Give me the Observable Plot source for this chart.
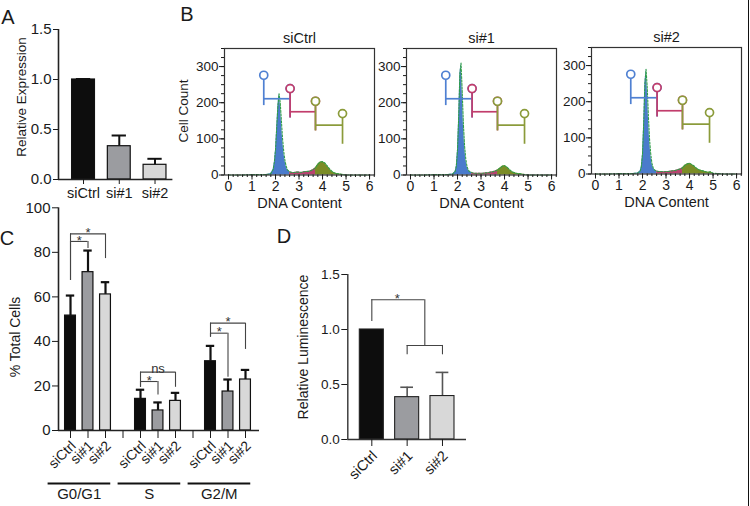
<!DOCTYPE html>
<html><head><meta charset="utf-8">
<script src="https://cdn.jsdelivr.net/npm/d3@7"></script>
<script src="https://cdn.jsdelivr.net/npm/@observablehq/plot@0.6"></script>
<style>
body{margin:0;background:#fff;}
#fig{position:relative;width:750px;height:506px;overflow:hidden;background:#fff;font-family:"Liberation Sans",Arial,sans-serif;color:#1a1a1a;}
.lab{position:absolute;white-space:nowrap;transform:translate(-50%,-50%);line-height:1;}
.vl{position:absolute;white-space:nowrap;transform:translate(-50%,-50%) rotate(-90deg);line-height:1;}
</style></head><body><div id="fig"></div><script>
// ---------- data ----------
const samples = ["siCtrl", "si#1", "si#2"];
const sampleFill = ["#0d0d0d", "#9b9ca0", "#d8d8d8"];

// Panel A: relative expression
const aYTicks = [0, 0.5, 1.0, 1.5];
const relExpr = [1.00, 0.333, 0.147];
const relExprErr = [0.005, 0.107, 0.06];

// Panel B: DNA content histograms
const bYTicks = [0, 100, 200, 300];
const bXTicks = [0, 1, 2, 3, 4, 5, 6];
const histTitles = ["siCtrl", "si#1", "si#2"];
const dnaBins = [0,0.5,1.0,1.5,1.7,1.8,1.9,1.95,2.0,2.05,2.1,2.15,2.2,2.25,2.3,2.35,2.4,2.45,2.5,2.6,2.7,2.8,2.9,3.0,3.1,3.2,3.3,3.4,3.5,3.6,3.7,3.8,3.9,4.0,4.1,4.2,4.3,4.4,4.5,4.6,4.7,4.8,4.9,5.0,5.5,6.0];
const countsCtrl = [0,0,1,1,2,4,15,35,70,130,190,225,200,150,100,65,40,25,15,9,7,7,8,8,7,9,10,10,12,15,20,30,36,37,33,25,17,10,6,4,3,2,1,0,0,0];
const countsSi1  = [0,0,1,1,2,3,10,25,70,160,280,310,230,140,80,45,25,15,10,7,5,5,5,5,5,6,6,8,9,11,14,19,24,26,22,16,10,7,5,4,3,2,1,0,0,0];
const countsSi2  = [0,0,1,1,2,3,8,20,55,140,250,290,240,160,95,55,30,18,12,8,7,7,6,7,7,8,9,10,12,14,17,24,28,30,26,22,16,12,10,8,6,5,6,2,0,0];
const regionEdges = [2.6, 3.7, 5.0];
const gateFrom = [1.5, 2.62, 3.7];
const gateTo = [2.62, 3.7, 4.85];
const gateLevel = [211, 175, 138];
const gateLeftTop = [276, 239, 204];
const gateLeftLow = [192, 158, 122];
const gateRightTop = [239, 204, 170];
const gateRightLow = [158, 122, 85];
const gateColor = ["#4f80d2", "#c23d6c", "#8b9b3a"];
const regionFill = ["#4a7bcc", "#b8436f", "#7b8c26"];

// Panel C: cell cycle distribution
const phases = ["G0/G1", "S", "G2/M"];
const cYTicks = [0, 20, 40, 60, 80, 100];
const pctG0G1 = [51.6, 71.1, 61.1];
const errG0G1 = [9.0, 9.7, 5.5];
const pctS = [14.2, 9.0, 13.3];
const errS = [4.1, 3.6, 3.6];
const pctG2M = [31.1, 17.5, 22.9];
const errG2M = [6.9, 5.4, 4.3];
// significance brackets (phase, sample a, sample b, top, leg low a, leg low b, label)
const cSigPhase = [0, 0, 1, 1, 2, 2];
const cSigA = [0, 0, 0, 0, 0, 0];
const cSigB = [1, 2, 1, 2, 1, 2];
const cSigTop = [84.9, 88.3, 22.0, 26.2, 43.7, 48.2];
const cSigLowA = [67.4, 67.4, 19.4, 19.4, 41.9, 41.9];
const cSigLowB = [81.7, 77.2, 15.9, 19.4, 23.9, 36.4];
const cSigText = ["*", "*", "*", "ns", "*", "*"];

// Panel D: relative luminescence
const dYTicks = [0, 0.5, 1.0, 1.5];
const relLum = [1.0, 0.385, 0.395];
const relLumErr = [0, 0.09, 0.215];
const dBracketTop = 1.27, dBracketLeftLow = 1.073, dBracketMid = 0.855, dBracketLegLow = 0.77;

// ---------- helpers ----------
const fig = document.getElementById("fig");
const font = '"Liberation Sans", Arial, sans-serif';
const baseStyle = {fontFamily: font, fontSize: "14px", color: "#1a1a1a", background: "transparent", overflow: "visible"};
function place(el, left, top) {
  el.style.position = "absolute"; el.style.left = left + "px"; el.style.top = top + "px";
  fig.appendChild(el);
}
function label(text, cx, cy, size, vertical) {
  const d = document.createElement("div");
  d.className = vertical ? "vl" : "lab";
  d.textContent = text;
  d.style.left = cx + "px"; d.style.top = cy + "px"; d.style.fontSize = size + "px";
  fig.appendChild(d);
}

// ---------- Panel A ----------
const aRows = samples.map((s, i) => ({i, s, v: relExpr[i], e: relExpr[i] + relExprErr[i], fill: sampleFill[i]}));
place(Plot.plot({
  width: 200, height: 205, marginLeft: 58, marginRight: 27.6, marginTop: 29, marginBottom: 26,
  x: {domain: [-0.7, 2.5]}, y: {domain: [0, 1.5]}, color: {type: "identity"},
  style: baseStyle,
  marks: [
    Plot.ruleX(aRows, {x: "i", y1: "v", y2: "e", stroke: "#111", strokeWidth: 2}),
    Plot.ruleY(aRows, {y: "e", x1: d => d.i - 0.2, x2: d => d.i + 0.2, stroke: "#111", strokeWidth: 2}),
    Plot.rectY(aRows, {x1: d => d.i - 0.32, x2: d => d.i + 0.32, y1: 0, y2: "v", fill: "fill", stroke: "#111", strokeWidth: 1.2}),
    Plot.ruleX([-0.7], {y1: 0, y2: 1.5, stroke: "#222", strokeWidth: 1.6}),
    Plot.ruleY([0], {x1: -0.7, x2: 2.5, stroke: "#222", strokeWidth: 1.6}),
    Plot.axisY({ticks: aYTicks, tickFormat: d3.format(".1f"), tickSize: 5, tickPadding: 2, fontSize: 15, label: null}),
    Plot.axisX({ticks: [0, 1, 2], tickFormat: i => samples[i], tickSize: 5, tickPadding: 3, fontSize: 14.5, label: null})
  ]
}), 0, 0);

// ---------- Panel B ----------
function histPanel(title, counts, left, mTop, y0) {
  const H = 215;
  const rows = dnaBins.map((x, k) => ({x, c: counts[k]}));
  const marks = [
    Plot.areaY(rows.filter(d => d.x <= regionEdges[0]), {x: "x", y: "c", fill: regionFill[0]}),
    Plot.areaY(rows.filter(d => d.x >= regionEdges[0] && d.x <= regionEdges[1]), {x: "x", y: "c", fill: regionFill[1]}),
    Plot.areaY(rows.filter(d => d.x >= regionEdges[1] && d.x <= regionEdges[2]), {x: "x", y: "c", fill: regionFill[2]}),
    Plot.lineY(rows, {x: "x", y: "c", stroke: "#2f9e48", strokeWidth: 1.1, strokeDasharray: "2,1.5"})
  ];
  for (let g = 0; g < 3; g++) {
    const st = {stroke: gateColor[g], strokeWidth: 1.7};
    marks.push(
      Plot.ruleY([gateLevel[g]], {x1: gateFrom[g], x2: gateTo[g], ...st}),
      Plot.ruleX([gateTo[g]], {y1: gateRightLow[g], y2: gateRightTop[g], ...st}),
      Plot.ruleX([gateFrom[g]], {y1: gateLeftLow[g], y2: gateLeftTop[g], ...st}),
      Plot.dot([[gateFrom[g], gateLeftTop[g]], [gateTo[g], gateRightTop[g]]], {x: d => d[0], y: d => d[1], r: 4, fill: "white", ...st})
    );
  }
  marks.push(
    Plot.frame({stroke: "#333", strokeWidth: 1.2}),
    Plot.axisY({ticks: d3.range(0, 351, 25), tickSize: 3, tickFormat: () => "", label: null}),
    Plot.axisY({ticks: bYTicks, tickSize: 5, tickPadding: 1, tickFormat: d3.format("d"), fontSize: 13.5, label: null}),
    Plot.axisX({ticks: d3.range(0, 6.21, 0.2), tickSize: 2.5, tickFormat: () => "", label: null}),
    Plot.axisX({ticks: bXTicks, tickSize: 5, tickPadding: 1, tickFormat: d3.format("d"), fontSize: 14, label: null}),
    Plot.text([title], {frameAnchor: "top", dy: -16, fontSize: 14.5}),
    Plot.text(["DNA Content"], {frameAnchor: "bottom", dy: 33, fontSize: 14.5})
  );
  place(Plot.plot({
    width: 185, height: H, marginLeft: 29, marginRight: 6, marginTop: mTop, marginBottom: H - y0,
    x: {domain: [-0.17, 6.21]}, y: {domain: [0, 350]},
    style: baseStyle, marks
  }), left, 0);
}
histPanel(histTitles[0], countsCtrl, 195, 48, 174.5);
histPanel(histTitles[1], countsSi1, 377, 48, 174.5);
histPanel(histTitles[2], countsSi2, 562, 47, 173.5);

// ---------- Panel C ----------
const cMeans = [pctG0G1, pctS, pctG2M];
const cErrs = [errG0G1, errS, errG2M];
const cRows = [];
phases.forEach((ph, p) => samples.forEach((s, k) => cRows.push({slot: p * 4 + k, k, v: cMeans[p][k], e: cMeans[p][k] + cErrs[p][k], fill: sampleFill[k]})));
const cGroups = phases.map((ph, p) => ({ph, p}));
const cSig = cSigText.map((t, j) => ({
  a: cSigPhase[j] * 4 + cSigA[j], b: cSigPhase[j] * 4 + cSigB[j],
  top: cSigTop[j], lowA: cSigLowA[j], lowB: cSigLowB[j], t
}));
const sigStyle = {stroke: "#444", strokeWidth: 1.1};
place(Plot.plot({
  width: 300, height: 316, marginLeft: 58, marginRight: 41, marginTop: 17.3, marginBottom: 76,
  x: {domain: [-0.686, 10.8]}, y: {domain: [0, 100]}, color: {type: "identity"},
  style: baseStyle,
  marks: [
    Plot.ruleX(cRows, {x: "slot", y1: "v", y2: "e", stroke: "#111", strokeWidth: 2.2}),
    Plot.ruleY(cRows, {y: "e", x1: d => d.slot - 0.24, x2: d => d.slot + 0.24, stroke: "#111", strokeWidth: 2.2}),
    Plot.rectY(cRows, {x1: d => d.slot - 0.31, x2: d => d.slot + 0.31, y1: 0, y2: "v", fill: "fill", stroke: "#111", strokeWidth: 1.2}),
    Plot.ruleX([-0.686], {y1: 0, y2: 100, stroke: "#222", strokeWidth: 1.6}),
    Plot.ruleY([0], {x1: -0.686, x2: 10.8, stroke: "#222", strokeWidth: 1.6}),
    Plot.axisY({ticks: cYTicks, tickSize: 6, tickPadding: 2, tickFormat: d3.format("d"), fontSize: 15, label: null}),
    Plot.axisX({ticks: d3.range(0, 11), tickSize: 8, tickFormat: () => "", label: null}),
    Plot.text(cRows, {x: "slot", y: 0, text: d => samples[d.k], rotate: -45, textAnchor: "end", dx: 3, dy: 13, fontSize: 14}),
    Plot.ruleY(cGroups, {y: 0, x1: d => d.p * 4 - 1.28, x2: d => d.p * 4 + 2.3, dy: 53, stroke: "#111", strokeWidth: 1.8}),
    Plot.text(cGroups, {x: d => d.p * 4 + 0.5, y: 0, text: "ph", dy: 64, fontSize: 15}),
    Plot.ruleY(cSig, {y: "top", x1: "a", x2: "b", ...sigStyle}),
    Plot.ruleX(cSig, {x: "a", y1: "lowA", y2: "top", ...sigStyle}),
    Plot.ruleX(cSig, {x: "b", y1: "lowB", y2: "top", ...sigStyle}),
    Plot.text(cSig.filter(d => d.t === "*"), {x: d => (d.a + d.b) / 2, y: "top", text: "t", dy: -1, fontSize: 13, fill: "#333"}),
    Plot.text(cSig.filter(d => d.t !== "*"), {x: d => (d.a + d.b) / 2, y: "top", text: "t", lineAnchor: "bottom", dy: 1, fontSize: 13, fill: "#333"})
  ]
}), 0, 190);

// ---------- Panel D ----------
const dRows = samples.map((s, i) => ({i, s, v: relLum[i], e: relLum[i] + relLumErr[i], fill: sampleFill[i]}));
const dErrRows = dRows.filter(d => d.e > d.v);
place(Plot.plot({
  width: 220, height: 256, marginLeft: 57.3, marginRight: 44, marginTop: 24, marginBottom: 67,
  x: {domain: [-0.68, 2.68]}, y: {domain: [0, 1.5]}, color: {type: "identity"},
  style: baseStyle,
  marks: [
    Plot.ruleX(dErrRows, {x: "i", y1: "v", y2: "e", stroke: "#555", strokeWidth: 1.6}),
    Plot.ruleY(dErrRows, {y: "e", x1: d => d.i - 0.18, x2: d => d.i + 0.18, stroke: "#555", strokeWidth: 1.6}),
    Plot.rectY(dRows, {x1: d => d.i - 0.34, x2: d => d.i + 0.34, y1: 0, y2: "v", fill: "fill", stroke: "#222", strokeWidth: 1.1}),
    Plot.ruleX([-0.68], {y1: 0, y2: 1.5, stroke: "#333", strokeWidth: 1.4}),
    Plot.ruleY([0], {x1: -0.68, x2: 2.68, stroke: "#333", strokeWidth: 1.4}),
    Plot.axisY({ticks: dYTicks, tickFormat: d3.format(".1f"), tickSize: 6, tickPadding: 2, fontSize: 13.5, label: null}),
    Plot.axisX({ticks: [0, 1, 2], tickSize: 7, tickFormat: () => "", label: null}),
    Plot.text(dRows, {x: "i", y: 0, text: "s", rotate: -45, textAnchor: "end", dx: 3, dy: 14, fontSize: 14.5}),
    Plot.ruleY([dBracketTop], {x1: 0, x2: 1.5, ...sigStyle}),
    Plot.ruleX([0], {y1: dBracketLeftLow, y2: dBracketTop, ...sigStyle}),
    Plot.ruleX([1.5], {y1: dBracketMid, y2: dBracketTop, ...sigStyle}),
    Plot.ruleY([dBracketMid], {x1: 1, x2: 2, ...sigStyle}),
    Plot.ruleX([1, 2], {y1: dBracketLegLow, y2: dBracketMid, ...sigStyle}),
    Plot.text(["*"], {x: 0.72, y: dBracketTop, dy: -1, fontSize: 13, fill: "#333"})
  ]
}), 290, 250);

// ---------- free text ----------
label("A", 8, 17, 20);
label("B", 187, 14, 20);
label("C", 7, 238, 20);
label("D", 284, 236, 20);
label("Relative Expression", 22, 97, 13.5, true);
label("Cell Count", 184, 111, 13.5, true);
label("% Total Cells", 15, 337, 14, true);
label("Relative Luminescence", 303, 347, 14, true);
const edge = document.createElement("div");
edge.style.cssText = "position:absolute;left:747.5px;top:0;width:1.5px;height:506px;background:#111;";
fig.appendChild(edge);
</script></body></html>
